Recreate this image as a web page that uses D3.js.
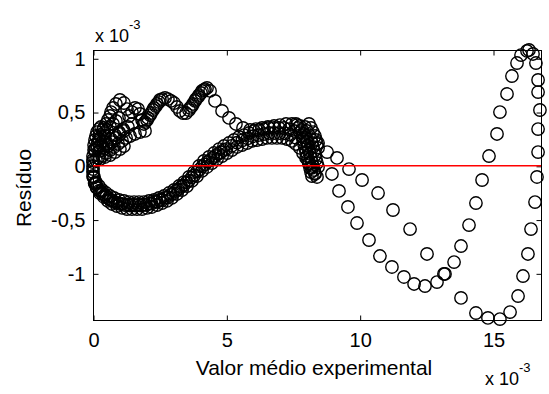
<!DOCTYPE html>
<html><head><meta charset="utf-8">
<script src="https://cdn.jsdelivr.net/npm/d3@7/dist/d3.min.js"></script>
<style>
html,body{margin:0;padding:0;background:#fff;}
svg{display:block;}
text{font-family:"Liberation Sans",Arial,sans-serif;fill:#000;}
</style>
</head><body>
<svg id="chart" width="549" height="394"></svg>
<script>
// All values in units of 1e-3 (axes show "x 10^-3")
const xTicks = [0, 5, 10, 15];
const xTickLabels = ["0", "5", "10", "15"];
const yTicks = [1, 0.5, 0, -0.5, -1];
const yTickLabels = ["1", "0,5", "0", "-0,5", "-1"];
const xLabel = "Valor médio experimental";
const yLabel = "Resíduo";

// start cluster near zero
const clusterX = [0,0,0.04,0.04,0.075,0.11,0.15,0.225,0.30,0.375,0.26,0.19,0.15,0.26,0.375,0.45,0.19,0.34,0.49,0.64,0.79,0.94,1.09,1.24,1.39,1.575,1.76,1.95,0.375,0.525,0.675,0.825,0.975,1.125];
const clusterY = [0.035,0.091,0.147,0.193,0.240,0.277,0.314,0.342,0.361,0.333,0.286,0.221,0.166,0.184,0.231,0.277,0.073,0.091,0.119,0.147,0.175,0.203,0.231,0.259,0.277,0.296,0.314,0.324,0.175,0.212,0.249,0.286,0.314,0.342];
const cluster2X = [0.075,0.15,0.225,0.30,0.41,0.525,0.64,0.75,0.86,0.975,0.26,0.41,0.56,0.71,0.86,1.01,1.16,1.31,1.46,0.11,0.26,0.45,0.64,0.825,1.01,1.16];
const cluster2Y = [0.147,0.193,0.240,0.268,0.305,0.333,0.361,0.389,0.417,0.445,0.138,0.156,0.184,0.221,0.259,0.296,0.324,0.361,0.389,0.054,0.063,0.082,0.100,0.128,0.156,0.184];

// upper wavy branch
const upperX = [0.41,0.49,0.56,0.64,0.675,0.75,0.86,1.01,1.16,1.275,1.35,1.46,1.575,1.69,1.76,1.84,1.91,2.025,2.14,2.25,2.36,2.475,2.59,2.70,2.81,2.925,3.04,3.15,3.26,3.375,3.49,3.60,3.71,3.825,3.94,4.05,4.16,4.275,4.39,4.575,4.84,5.10,5.36,5.625,5.89,6.11,6.34,6.56,6.79,7.01,7.24,7.46,7.65];
const upperY = [0.352,0.389,0.426,0.463,0.500,0.538,0.575,0.612,0.584,0.528,0.463,0.500,0.538,0.528,0.482,0.426,0.389,0.426,0.472,0.519,0.556,0.593,0.621,0.631,0.621,0.603,0.584,0.547,0.510,0.491,0.491,0.519,0.556,0.603,0.640,0.677,0.705,0.724,0.696,0.603,0.510,0.445,0.389,0.352,0.333,0.342,0.352,0.361,0.370,0.379,0.389,0.389,0.379];
const upper2X = [1.95,2.06,2.175,2.29,2.40,2.51,3.64,3.75,3.86,3.975,4.09,4.20];
const upper2Y = [0.407,0.445,0.491,0.538,0.575,0.612,0.538,0.575,0.621,0.658,0.696,0.714];

// lower sine-like band, four traces
const lowerAX = [0,0,0,0.04,0.11,0.225,0.34,0.49,0.64,0.79,0.975,1.16,1.35,1.54,1.725,1.91,2.10,2.29,2.475,2.66,2.85,3.04,3.225,3.41,3.60,3.79,3.975,4.16,4.35,4.54,4.725,4.91,5.10,5.29,5.475,5.66,5.85,6.04,6.225,6.41,6.60,6.79,6.975,7.16,7.35,7.54];
const lowerAY = [0.054,-0.002,-0.058,-0.104,-0.151,-0.188,-0.225,-0.253,-0.281,-0.299,-0.318,-0.327,-0.337,-0.337,-0.337,-0.337,-0.327,-0.318,-0.299,-0.281,-0.253,-0.225,-0.188,-0.151,-0.104,-0.058,-0.002,0.045,0.082,0.119,0.156,0.184,0.212,0.240,0.268,0.286,0.305,0.324,0.333,0.342,0.352,0.352,0.352,0.352,0.342,0.324];
const lowerBX = [0,0.075,0.15,0.26,0.41,0.56,0.71,0.90,1.09,1.275,1.46,1.65,1.84,2.025,2.21,2.40,2.59,2.775,2.96,3.15,3.34,3.525,3.71,3.90,4.09,4.275,4.46,4.65,4.84,5.025,5.21,5.40,5.59,5.775,5.96,6.15,6.34,6.525,6.71,6.90,7.09,7.275,7.46,7.61,7.76,7.875,7.99,8.10,8.21,8.325,8.40];
const lowerBY = [-0.095,-0.160,-0.206,-0.253,-0.290,-0.327,-0.355,-0.374,-0.392,-0.402,-0.402,-0.402,-0.402,-0.392,-0.383,-0.365,-0.346,-0.327,-0.299,-0.262,-0.225,-0.188,-0.141,-0.095,-0.048,-0.011,0.026,0.063,0.091,0.119,0.147,0.175,0.193,0.212,0.231,0.240,0.249,0.259,0.259,0.259,0.259,0.249,0.231,0.203,0.166,0.119,0.073,0.026,-0.020,-0.067,-0.104];
const lowerCX = [0,0.02,0.06,0.13,0.24,0.36,0.50,0.66,0.83,1.01,1.20,1.40,1.60,1.80,2.00,2.20,2.40,2.60,2.80,3.00,3.20,3.40,3.60,3.80,4.00,4.20,4.40,4.60,4.80,5.00,5.20,5.40,5.60,5.80,6.00,6.20,6.40,6.60,6.80,7.00,7.20,7.40,7.60];
const lowerCY = [-0.03,-0.11,-0.16,-0.20,-0.23,-0.26,-0.29,-0.32,-0.34,-0.355,-0.365,-0.37,-0.37,-0.37,-0.365,-0.352,-0.335,-0.318,-0.293,-0.26,-0.222,-0.183,-0.137,-0.088,-0.033,0.013,0.053,0.092,0.126,0.156,0.186,0.215,0.237,0.255,0.275,0.285,0.295,0.305,0.305,0.305,0.302,0.288,0.262];
const lowerDX = [0.10,0.30,0.45,0.58,0.74,0.92,1.10,1.30,1.50,1.70,1.90,2.10,2.30,2.50,2.70,2.90,3.10,3.30,3.50,3.70,3.90,4.10,4.30,4.50,4.70,4.90];
const lowerDY = [-0.17,-0.235,-0.27,-0.30,-0.325,-0.345,-0.355,-0.36,-0.362,-0.362,-0.36,-0.35,-0.335,-0.318,-0.298,-0.27,-0.235,-0.196,-0.155,-0.107,-0.055,-0.005,0.038,0.077,0.114,0.146];

// steep bend around 8e-3
const bendX = [7.76,7.84,7.91,7.99,8.025,8.06,8.10,8.14,8.175,8.21,8.25,8.29,8.325,7.95,8.025,8.10,8.175,8.21,8.25,8.29,8.325,8.36,8.40,8.44];
const bendY = [0.370,0.333,0.296,0.259,0.221,0.184,0.147,0.110,0.073,0.035,-0.002,-0.039,-0.076,0.361,0.324,0.286,0.249,0.212,0.175,0.138,0.100,0.063,0.026,-0.011];
const bend2X = [7.61,7.69,7.76,7.84,7.875,7.91,7.95,7.99,8.025,8.06,8.10,8.14,8.175,8.21,8.10,8.175,8.25,8.325,8.36,8.40,8.44];
const bend2Y = [0.389,0.352,0.314,0.277,0.240,0.203,0.166,0.128,0.091,0.054,0.017,-0.020,-0.058,-0.095,0.389,0.352,0.314,0.277,0.240,0.203,0.166];

// two sparse branches at high values
const outerX = [8.44,8.78,9.15,9.60,10.09,10.69,11.25,11.89,12.525,13.20,13.80,14.36,14.81,15.26,15.64,15.94,16.125,16.31,16.425,16.575,16.65,16.69,16.69,16.76,16.69,16.69,16.61,16.50,16.35];
const outerY = [0.212,0.128,0.073,-0.030,-0.132,-0.253,-0.411,-0.588,-0.820,-1.006,-1.229,-1.369,-1.415,-1.425,-1.360,-1.211,-1.025,-0.820,-0.588,-0.337,-0.104,0.128,0.342,0.519,0.686,0.798,0.956,1.040,1.077];
const innerX = [8.96,9.225,9.56,9.90,10.35,10.76,11.21,11.66,12.04,12.45,12.90,13.16,13.54,13.80,14.10,14.36,14.59,14.85,15.15,15.26,15.525,15.71,15.90,16.05,16.275];
const innerY = [-0.076,-0.234,-0.383,-0.532,-0.690,-0.839,-0.941,-1.034,-1.099,-1.118,-1.081,-1.006,-0.895,-0.746,-0.551,-0.346,-0.132,0.091,0.296,0.500,0.668,0.835,0.956,1.030,1.068];

const xDomain = [0, 16.8];
const yDomain = [-1.434, 1.077];

const svg = d3.select("#chart");
const L = 93, R = 541, T = 50, B = 320;
const x = d3.scaleLinear().domain(xDomain).range([L, R]);
const y = d3.scaleLinear().domain(yDomain).range([B, T]);

svg.append("rect").attr("width", 549).attr("height", 394).attr("fill", "#fff");

const series = [
  [clusterX, clusterY], [cluster2X, cluster2Y], [upperX, upperY], [upper2X, upper2Y],
  [lowerAX, lowerAY], [lowerBX, lowerBY], [lowerCX, lowerCY], [lowerDX, lowerDY],
  [bendX, bendY], [bend2X, bend2Y], [outerX, outerY], [innerX, innerY]
];
const pts = [];
series.forEach(([xs, ys]) => { d3.zip(xs, ys).forEach(p => pts.push(p)); });

// axes box
svg.append("rect")
  .attr("x", L + 0.5).attr("y", T + 0.5)
  .attr("width", R - L).attr("height", B - T)
  .attr("fill", "none").attr("stroke", "#000").attr("stroke-width", 1);

const fs = 20;
const ax = svg.append("g").attr("transform", `translate(0.5,${B + 0.5})`)
  .call(d3.axisBottom(x).tickValues(xTicks).tickFormat((d, i) => xTickLabels[i])
    .tickSizeInner(-5).tickSizeOuter(0).tickPadding(12));
const axT = svg.append("g").attr("transform", `translate(0.5,${T + 0.5})`)
  .call(d3.axisTop(x).tickValues(xTicks).tickFormat("").tickSizeInner(-5).tickSizeOuter(0));
const ay = svg.append("g").attr("transform", `translate(${L + 0.5},0.5)`)
  .call(d3.axisLeft(y).tickValues(yTicks).tickFormat((d, i) => yTickLabels[i])
    .tickSizeInner(-5).tickSizeOuter(0).tickPadding(8));
const ayR = svg.append("g").attr("transform", `translate(${R + 0.5},0.5)`)
  .call(d3.axisRight(y).tickValues(yTicks).tickFormat("").tickSizeInner(-5).tickSizeOuter(0));
[ax, axT, ay, ayR].forEach(g => {
  g.select(".domain").remove();
  g.selectAll("line").attr("stroke", "#000");
  g.selectAll("text").attr("font-size", fs).attr("font-family", '"Liberation Sans", Arial, sans-serif').attr("fill", "#000");
});

// circles
svg.append("g").selectAll("circle").data(pts).join("circle")
  .attr("cx", d => x(d[0])).attr("cy", d => y(d[1]))
  .attr("r", 6.2).attr("fill", "none").attr("stroke", "#000").attr("stroke-width", 1.4);

// zero line
svg.append("line")
  .attr("x1", x(xDomain[0])).attr("x2", x(xDomain[1]))
  .attr("y1", y(0)).attr("y2", y(0))
  .attr("stroke", "#ff0000").attr("stroke-width", 1.6);

// labels
svg.append("text").attr("x", 314).attr("y", 375).attr("text-anchor", "middle")
  .attr("font-size", 21).text(xLabel);
svg.append("text").attr("transform", "translate(31,188) rotate(-90)").attr("text-anchor", "middle")
  .attr("font-size", 21).text(yLabel);

// exponent labels
function expo(xp, yp) {
  const t = svg.append("text").attr("x", xp).attr("y", yp).attr("font-size", 18);
  t.append("tspan").text("x 10");
  t.append("tspan").attr("dy", -13).attr("font-size", 13).text("-3");
}
expo(95, 42);
expo(485, 385);
</script>
</body></html>
